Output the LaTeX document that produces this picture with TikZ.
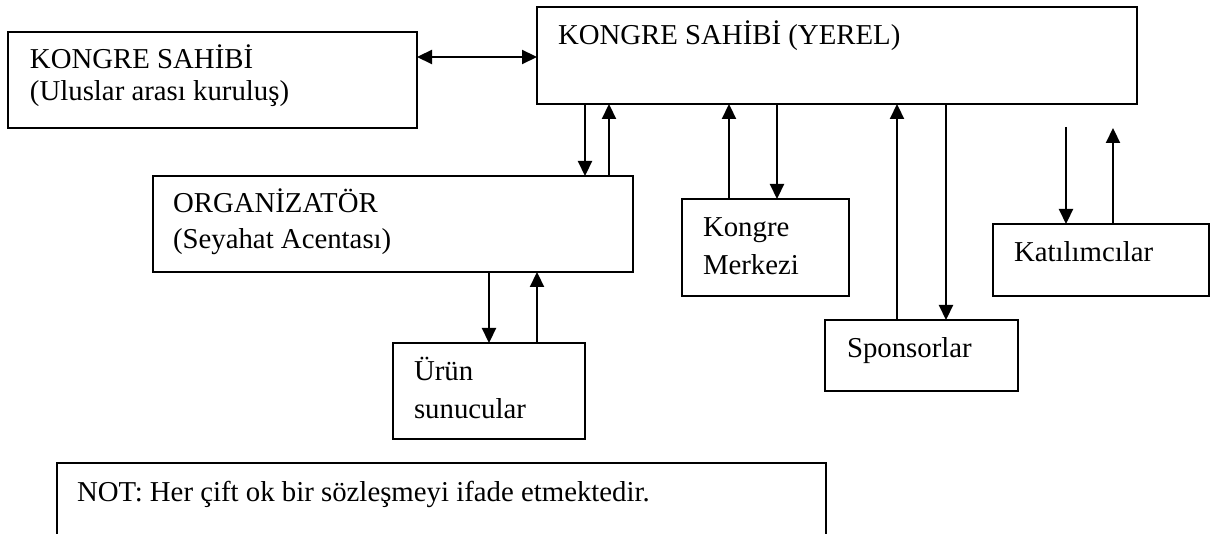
\documentclass[tikz,border=0pt]{standalone}
\usepackage{fontspec}
\setmainfont{Liberation Serif}
\usetikzlibrary{arrows.meta}
\begin{document}
\begin{tikzpicture}[x=1pt,y=-1pt,
  box/.style={draw, line width=2pt, rectangle, anchor=north west, inner sep=0pt, outer sep=0pt},
  lbl/.style={anchor=base west, inner sep=0pt, outer sep=0pt, font=\fontsize{28.8}{34}\selectfont},
  arr/.style={line width=2.2pt, -{Triangle[length=15pt,width=14pt]}},
  darr/.style={line width=2.2pt, {Triangle[length=15pt,width=14pt]}-{Triangle[length=15pt,width=14pt]}}]
\clip (0,0) rectangle (1219,534);
\fill[white] (0,0) rectangle (1219,534);
% boxes
\node[box, minimum width=409pt, minimum height=96pt] (A) at (8,32) {};
\node[box, minimum width=600pt, minimum height=97pt] (B) at (537,7) {};
\node[box, minimum width=480pt, minimum height=96pt] (O) at (153,176) {};
\node[box, minimum width=192pt, minimum height=96pt] (U) at (393,343) {};
\node[box, minimum width=167pt, minimum height=97pt] (KM) at (682,199) {};
\node[box, minimum width=193pt, minimum height=71pt] (S) at (825,320) {};
\node[box, minimum width=216pt, minimum height=72pt] (K) at (993,224) {};
\node[box, minimum width=769pt, minimum height=120pt] (N) at (57,463) {};
% texts
\node[lbl] (tA1) at (30,69) {KONGRE SAHİBİ};
\node[lbl] (tA2) at (30,101) {(Uluslar arası kuruluş)};
\node[lbl] (tB) at (558,45) {KONGRE SAHİBİ (YEREL)};
\node[lbl] (tO1) at (173,213) {ORGANİZATÖR};
\node[lbl] (tO2) at (173,249) {(Seyahat Acentası)};
\node[lbl] (tU1) at (414,381) {Ürün};
\node[lbl] (tU2) at (414,419) {sunucular};
\node[lbl] (tKM1) at (703,237) {Kongre};
\node[lbl] (tKM2) at (703,275) {Merkezi};
\node[lbl] (tS) at (847,358) {Sponsorlar};
\node[lbl] (tK) at (1014,262) {Katılımcılar};
\node[lbl] (tN) at (77,502) {NOT: Her çift ok bir sözleşmeyi ifade etmektedir.};
% free ends
\coordinate (k1) at (1066,127);
\coordinate (k2) at (1113,128);
% connectors
\draw[darr] (A.east |- 0,57) -- (B.west |- 0,57);
\draw[arr] (585,0 |- B.south) -- (585,0 |- O.north);
\draw[arr] (609,0 |- O.north) -- (609,0 |- B.south);
\draw[arr] (729,0 |- KM.north) -- (729,0 |- B.south);
\draw[arr] (777,0 |- B.south) -- (777,0 |- KM.north);
\draw[arr] (897,0 |- S.north) -- (897,0 |- B.south);
\draw[arr] (946,0 |- B.south) -- (946,0 |- S.north);
\draw[arr] (k1) -- (k1 |- K.north);
\draw[arr] (k2 |- K.north) -- (k2);
\draw[arr] (489,0 |- O.south) -- (489,0 |- U.north);
\draw[arr] (537,0 |- U.north) -- (537,0 |- O.south);
\end{tikzpicture}
\end{document}
